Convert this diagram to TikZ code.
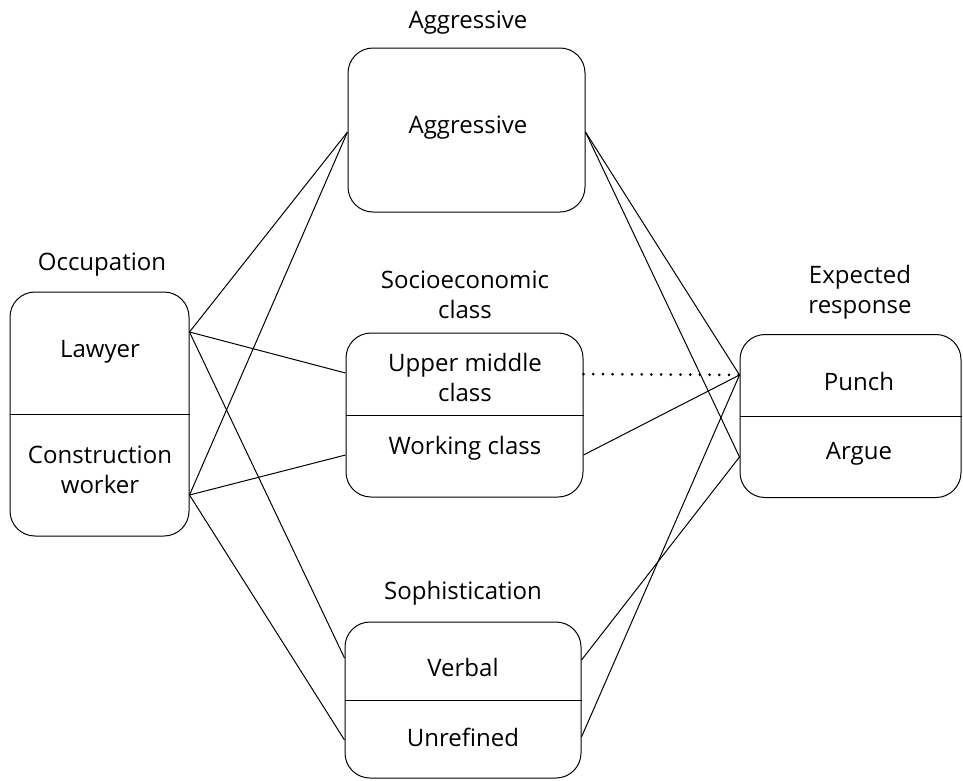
\documentclass[tikz,border=0pt]{standalone}
\usepackage{fontspec}
\setmainfont{Open Sans}
\usepackage{tikz}
\usetikzlibrary{positioning}

\tikzset{
  catbox/.style={draw, rounded corners=25pt, inner sep=0pt},
  rowtext/.style={align=center, font=\fontsize{24}{30}\selectfont},
  headtext/.style={align=center, font=\fontsize{24}{30}\selectfont},
  link/.style={line width=1pt},
  dotlink/.style={line width=3pt, line cap=round, dash pattern=on 0pt off 9.7pt}
}

\begin{document}
\begin{tikzpicture}[x=1pt, y=-1pt, line width=1pt]
    \useasboundingbox (0,0) rectangle (963,780);
    % Category boxes
    \node[catbox, minimum width=179pt, minimum height=244pt] (occ)   at (99.5,414)  {};
    \node[catbox, minimum width=237pt, minimum height=164pt] (aggr)  at (466.5,130) {};
    \node[catbox, minimum width=237pt, minimum height=164pt] (socio) at (464.5,415) {};
    \node[catbox, minimum width=221pt, minimum height=163pt] (resp)  at (850.5,416) {};
    \node[catbox, minimum width=236pt, minimum height=156pt] (soph)  at (463,700)   {};
    % Dividers
    \draw (occ.west) -- (occ.east);
    \draw (socio.west) -- (socio.east);
    \draw (resp.west) -- (resp.east);
    \draw (soph.west) -- (soph.east);
    % Headings
    \node[headtext] (occhead)   at (102,265) {Occupation};
    \node[headtext] (aggrhead)  at (468,23)  {Aggressive};
    \node[headtext] (sociohead) at (465,295) {Socioeconomic\\class};
    \node[headtext] (resphead)  at (860,292) {Expected\\response};
    \node[headtext] (sophhead)  at (463,593) {Sophistication};
    % Row texts
    \node[rowtext] (lawyer)    at (100,352) {Lawyer};
    \node[rowtext] (worker)    at (100,470) {Construction\\worker};
    \node[rowtext] (aggrrow)   at (468,128) {Aggressive};
    \node[rowtext] (upper)     at (465,377) {Upper middle\\class};
    \node[rowtext] (working)   at (465,448) {Working class};
    \node[rowtext] (punch)     at (859,381) {Punch};
    \node[rowtext] (argue)     at (859,454) {Argue};
    \node[rowtext] (verbal)    at (463,667) {Verbal};
    \node[rowtext] (unrefined) at (463,737) {Unrefined};
    % Ports on the box edges
    \coordinate (lawyer-e)    at ([yshift=82pt]occ.east);
    \coordinate (worker-e)    at ([yshift=-81pt]occ.east);
    \coordinate (upper-w)     at ([yshift=42pt]socio.west);
    \coordinate (upper-e)     at ([yshift=41pt]socio.east);
    \coordinate (working-w)   at ([yshift=-40pt]socio.west);
    \coordinate (working-e)   at ([yshift=-40pt]socio.east);
    \coordinate (punch-w)     at ([yshift=41pt]resp.west);
    \coordinate (argue-w)     at ([yshift=-41pt]resp.west);
    \coordinate (verbal-w)    at ([yshift=42pt]soph.west);
    \coordinate (verbal-e)    at ([yshift=40pt]soph.east);
    \coordinate (unrefined-w) at ([yshift=-40pt]soph.west);
    \coordinate (unrefined-e) at ([yshift=-37pt]soph.east);
    % Occupation to the middle column
    \draw[link] (lawyer-e) -- ([yshift=-2pt]aggr.west);
    \draw[link] (worker-e) -- ([yshift=-2pt]aggr.west);
    \draw[link] (lawyer-e) -- (upper-w);
    \draw[link] (worker-e) -- (working-w);
    \draw[link] (lawyer-e) -- (verbal-w);
    \draw[link] (worker-e) -- (unrefined-w);
    % Middle column to the response
    \draw[link] ([yshift=-2pt]aggr.east) -- (punch-w);
    \draw[link] ([yshift=-2pt]aggr.east) -- (argue-w);
    \draw[dotlink] (upper-e) -- (punch-w);
    \draw[link] (working-e) -- (punch-w);
    \draw[link] (verbal-e) -- (argue-w);
    \draw[link] (unrefined-e) -- (punch-w);
\end{tikzpicture}
\end{document}
